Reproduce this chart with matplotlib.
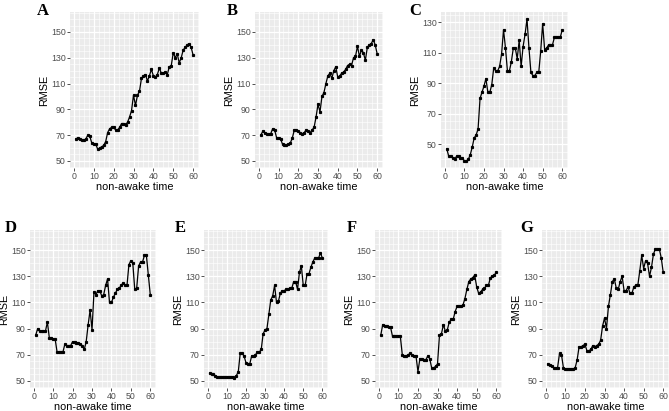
import numpy as np
import matplotlib
matplotlib.use("Agg")
import matplotlib.pyplot as plt
from matplotlib.ticker import MultipleLocator

plt.rcParams['font.family'] = ['Liberation Sans', 'DejaVu Sans']

x = np.arange(1, 61)

rmse_a = [67, 68, 67, 66, 66, 67, 70, 69, 64, 63, 63, 59, 60, 61, 62, 65, 72, 75, 76, 76,
          74, 74, 76, 79, 79, 78, 80, 84, 89, 101, 93, 101, 104, 114, 116, 117, 112, 116, 121, 116,
          115, 117, 122, 118, 118, 119, 117, 123, 124, 134, 130, 133, 126, 130, 136, 138, 140, 141, 138, 132]
rmse_b = [70, 73, 72, 71, 71, 71, 75, 74, 68, 68, 67, 63, 62, 62, 63, 64, 68, 74, 74, 73,
          72, 71, 72, 74, 73, 72, 74, 76, 84, 94, 88, 100, 103, 110, 116, 118, 114, 120, 123, 115,
          116, 118, 119, 121, 124, 125, 124, 130, 131, 139, 131, 136, 134, 128, 138, 140, 141, 144, 140, 133]
rmse_c = [47, 42, 42, 41, 40, 42, 42, 41, 41, 39, 39, 40, 43, 48, 54, 56,
          60, 80, 84, 88, 93, 84, 84, 89, 100, 98, 98, 101, 109, 125, 113, 98, 98, 104, 113, 113,
          106, 118, 101, 114, 122, 132,
          113, 97, 95, 95, 97, 97, 111, 129, 112, 113, 115, 115, 115, 120, 120, 120, 120, 125]
rmse_d = [85, 90, 88, 88, 88, 88, 95, 83, 83, 82, 82, 72, 72, 72, 72, 78, 77, 77, 77, 80,
          80, 79, 79, 78, 77, 74, 80, 93, 104, 89, 118, 116, 119, 119, 115, 116, 123, 128, 110, 110,
          114, 117, 120, 121, 123, 125, 123, 123, 139, 142, 140, 120, 121, 138, 141, 141, 146, 146, 131, 116]
rmse_e = [56, 55, 55, 54, 53, 53, 53, 53, 53, 53, 53, 53, 53, 52, 54, 57, 71, 71, 69, 64,
          63, 63, 69, 69, 70, 72, 72, 74, 86, 89, 90, 101, 112, 115, 123, 110, 111, 117, 119, 119,
          120, 120, 121, 121, 126, 126, 120, 133, 138, 123, 123, 132, 132, 137, 141, 144, 144, 144, 148, 144]
rmse_f = [85, 93, 92, 92, 91, 91, 84, 84, 84, 84, 84, 70, 69, 69, 70, 71, 70, 69, 69, 57,
          67, 67, 66, 66, 69, 67, 60, 60, 61, 63, 85, 86, 93, 88, 89, 95, 97, 97, 103, 107,
          107, 107, 108, 113, 120, 126, 128, 129, 131, 122, 117, 118, 120, 121, 123, 123, 129, 130, 131, 133]
rmse_g = [63, 62, 61, 60, 60, 60, 71, 70, 60, 59, 59, 59, 59, 59, 60, 66, 76, 76, 77, 78,
          73, 73, 74, 77, 76, 77, 78, 81, 92, 98, 90, 107, 116, 126, 128, 121, 120, 126, 130, 119,
          119, 122, 117, 117, 122, 123, 123, 134, 146, 136, 142, 140, 130, 137, 147, 151, 151, 151, 144, 133]

W, H = 669, 411
fig = plt.figure(figsize=(W / 100, H / 100), dpi=100)


def rect(x0, y0, x1, y1):
    return [x0 / W, 1 - y1 / H, (x1 - x0) / W, (y1 - y0) / H]


panels = [
    ('A', rmse_a, (70, 12, 199, 168), (37, 3), (44.5, 165.5)),
    ('B', rmse_b, (255, 12, 383, 168), (227, 3), (44.5, 165.5)),
    ('C', rmse_c, (441, 12, 568, 168), (409, 3), None),
    ('D', rmse_d, (30, 230, 156, 388), (5, 220), (44.5, 165.5)),
    ('E', rmse_e, (204, 230, 328, 388), (175, 220), (44.5, 165.5)),
    ('F', rmse_f, (375, 230, 502, 388), (347, 220), (44.5, 165.5)),
    ('G', rmse_g, (542, 230, 669, 388), (520, 220), (44.5, 165.5)),
]

for letter, y, box, lpos, ylim in panels:
    ax = fig.add_axes(rect(*box))
    ax.set_facecolor('#EBEBEB')
    ax.plot(x, y, '-', color='black', lw=0.9, marker='s', ms=1.3)
    ax.set_xlim(-1.95, 62.95)
    if ylim is None:
        lo, hi = min(y), max(y)
        pad = 0.05 * (hi - lo)
        ylim = (lo - pad, hi + pad)
    ax.set_ylim(*ylim)
    ax.xaxis.set_major_locator(MultipleLocator(10))
    ax.xaxis.set_minor_locator(MultipleLocator(2.5))
    ax.yaxis.set_major_locator(MultipleLocator(20, offset=10))
    ax.yaxis.set_minor_locator(MultipleLocator(5))
    ax.grid(which='major', color='white', lw=0.9)
    ax.grid(which='minor', color='white', lw=0.4)
    ax.set_axisbelow(True)
    for s in ax.spines.values():
        s.set_visible(False)
    ax.tick_params(which='major', length=2, width=0.6, color='#333333',
                   labelsize=6.3, labelcolor='#4D4D4D', pad=1.2)
    ax.tick_params(which='minor', length=0)
    ax.set_xlabel('non-awake time', fontsize=7.8, labelpad=0.3)
    ax.set_ylabel('RMSE', fontsize=7.8, labelpad=1.2)
    fig.text(lpos[0] / W, 1 - lpos[1] / H, letter, family='Liberation Serif',
             fontweight='bold', fontsize=12, va='top', ha='left')

fig.savefig('out.png', dpi=100)
